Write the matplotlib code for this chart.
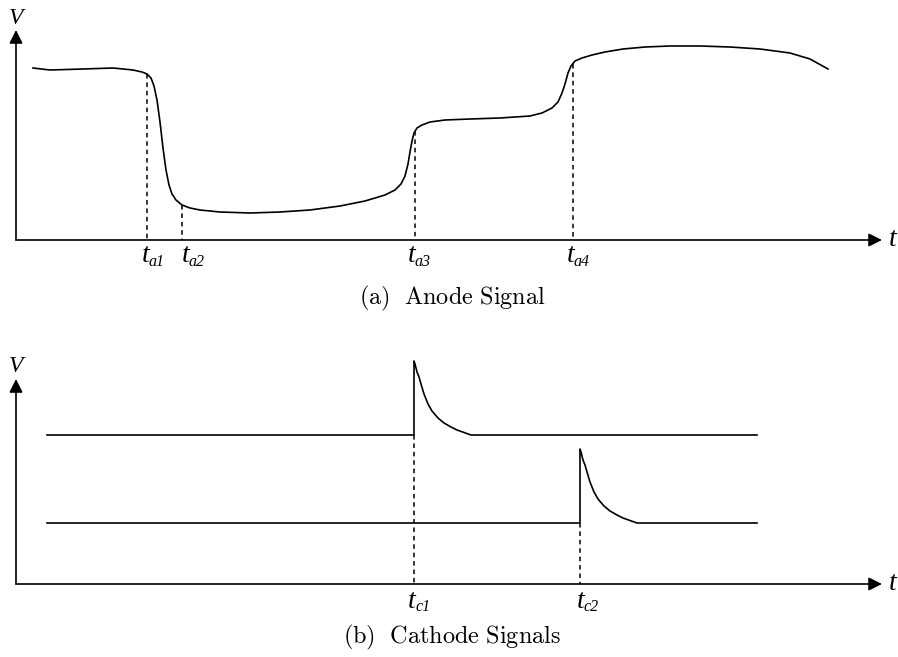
import matplotlib.pyplot as plt

plt.rcParams['mathtext.fontset'] = 'cm'

# anode signal (x, y in pixels, y downwards)
anode_x = [33, 50, 83, 113, 133, 142, 147, 151, 154, 157, 160, 163, 166, 169, 172,
           176, 182, 190, 200, 220, 250, 280, 310, 340, 365, 385, 395, 401, 405, 408,
           410, 412, 414, 417, 422, 430, 445, 470, 500, 530, 542, 552, 558, 562, 565,
           568, 571, 575, 582, 592, 605, 623, 645, 670, 700, 730, 760, 790, 810, 828]
anode_y = [68, 70, 69, 68, 70, 72, 74, 78, 86, 100, 122, 148, 170, 185, 194,
           200, 205, 208, 210, 212, 213, 212, 210, 206, 201, 195, 190, 184, 176, 164,
           152, 141, 133, 128, 125, 122, 120, 119, 118, 116, 113, 108, 102, 93, 84,
           73, 66, 61, 58, 55, 52, 49, 47, 46, 46, 47, 49, 53, 59, 69]
anode_marks = [147, 182, 415, 573]
anode_mark_y = [74, 205, 131, 64]
anode_label_x = [142, 182, 408, 567]
anode_labels = ['a1', 'a2', 'a3', 'a4']

# cathode pulse shape (offsets from the step)
pulse_dx = [0, 0, 1, 2, 3, 5, 7, 10, 14, 18, 24, 30, 37, 43, 50, 57]
pulse_dy = [0, -74, -71, -67, -63, -58, -51, -41, -31, -24, -17, -12, -8, -5, -2.5, 0]
cathode_t = [414, 580]
cathode_base = [435, 523]
cathode_label_x = [408, 577]
cathode_start, cathode_end = 47, 757
cathode_labels = ['c1', 'c2']

fig = plt.figure(figsize=(8.98, 6.57), dpi=100)
ax = fig.add_axes([0, 0, 1, 1])
ax.set_xlim(0, 898)
ax.set_ylim(657, 0)
ax.axis('off')

lw = 1.2
arrow = dict(arrowstyle='-|>', mutation_scale=20, lw=lw, color='black',
             shrinkA=0, shrinkB=0)
serif = 'Liberation Serif'

def axes_frame(y0, ytop, lab_y):
    ax.annotate('', xy=(16, ytop), xytext=(16, y0), arrowprops=arrow)
    ax.annotate('', xy=(882, y0), xytext=(16, y0), arrowprops=arrow)
    ax.text(16, lab_y, 'V', family=serif, style='italic',
            fontsize=17, ha='center', va='center')
    ax.text(893, y0 - 1, 't', family=serif, style='italic',
            fontsize=20, ha='center', va='center')

def tick_label(x, y, sub):
    ax.text(x, y, 't', family=serif, style='italic', fontsize=20,
            ha='left', va='center')
    ax.text(x + 7, y + 6, sub, family=serif, style='italic', fontsize=11.5,
            ha='left', va='center')

# (a) anode
axes_frame(240, 30, 18)
ax.plot(anode_x, anode_y, color='black', lw=lw)
for x, y, lx, s in zip(anode_marks, anode_mark_y, anode_label_x, anode_labels):
    ax.plot([x, x], [y, 240], color='black', lw=1.1, ls=(0, (3, 2.5)))
    tick_label(lx, 256, s)
ax.text(452, 298, r'$\mathrm{(a)\ \ Anode\ Signal}$', fontsize=17.5,
        ha='center', va='center')

# (b) cathode
axes_frame(584, 379, 367)
for t0, base, lx, s in zip(cathode_t, cathode_base, cathode_label_x, cathode_labels):
    px = [cathode_start] + [t0 + d for d in pulse_dx] + [cathode_end]
    py = [base] + [base + d for d in pulse_dy] + [base]
    ax.plot(px, py, color='black', lw=lw)
    ax.plot([t0, t0], [base, 584], color='black', lw=1.1, ls=(0, (3, 2.5)))
    tick_label(lx, 601, s)
ax.text(452, 637, r'$\mathrm{(b)\ \ Cathode\ Signals}$', fontsize=17.5,
        ha='center', va='center')

fig.savefig('out.png', dpi=100)
